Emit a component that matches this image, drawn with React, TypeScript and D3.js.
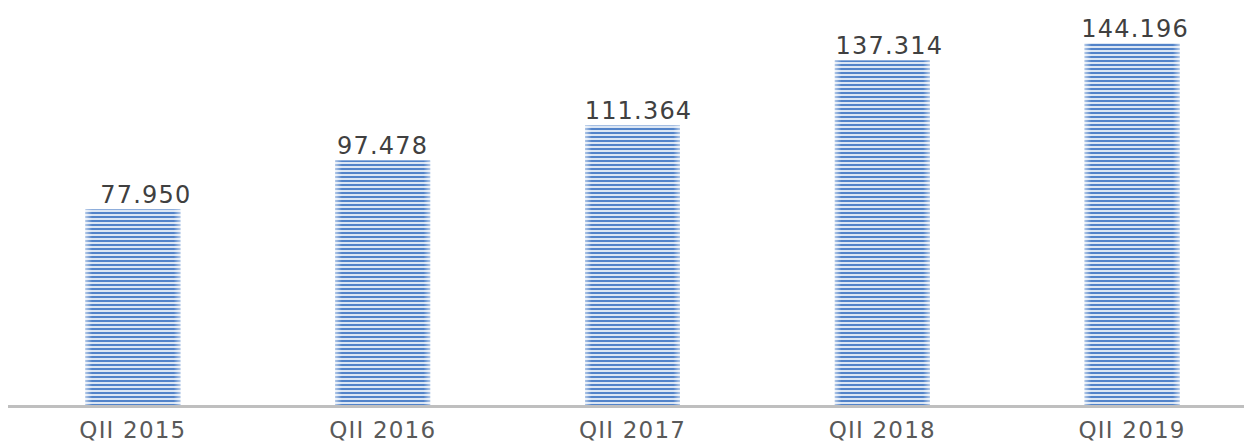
import React from "react";
import * as d3 from "d3";

const categories = ["QII 2015", "QII 2016", "QII 2017", "QII 2018", "QII 2019"];
const values = [77.95, 97.478, 111.364, 137.314, 144.196];
const valueLabels = ["77.950", "97.478", "111.364", "137.314", "144.196"];

// layout only: manual label nudges as in the original
const labelNudge = [13, 0, 6, 7, 3];

const W = 1244;
const H = 443;
const baseline = 405;

export default function App() {
  const x = d3
    .scaleBand<string>()
    .domain(categories)
    .range([8, 1257])
    .paddingInner(0.62)
    .paddingOuter(0.31);
  const y = d3.scaleLinear().domain([0, 160]).range([baseline, baseline - 160 * 2.51]);

  return (
    <svg
      width={W}
      height={H}
      style={{ position: "absolute", left: 0, top: 0, background: "#fff" }}
      fontFamily="'DejaVu Sans', Verdana, sans-serif"
    >
      <defs>
        <pattern id="stripes" patternUnits="userSpaceOnUse" width="8" height="4">
          <rect x="0" y="0" width="8" height="4" fill="#dbe6f4" />
          <rect x="0" y="0" width="8" height="2" fill="#5283c9" />
        </pattern>
        <linearGradient id="edge" x1="0" x2="1" y1="0" y2="0">
          <stop offset="0" stopColor="#ffffff" stopOpacity="0.55" />
          <stop offset="0.07" stopColor="#ffffff" stopOpacity="0" />
          <stop offset="0.93" stopColor="#ffffff" stopOpacity="0" />
          <stop offset="1" stopColor="#ffffff" stopOpacity="0.55" />
        </linearGradient>
      </defs>
      {categories.map((c, i) => {
        const bx = x(c)!;
        const by = y(values[i]);
        const bw = x.bandwidth();
        const bh = baseline - by;
        return (
          <g key={c}>
            <rect x={bx} y={by} width={bw} height={bh} fill="url(#stripes)" />
            <rect x={bx} y={by} width={bw} height={bh} fill="url(#edge)" />
            <text
              x={bx + bw / 2 + labelNudge[i]}
              y={by - 6}
              textAnchor="middle"
              fontSize={24}
              letterSpacing={1.2}
              fill="#404040"
            >
              {valueLabels[i]}
            </text>
            <text
              x={bx + bw / 2}
              y={438}
              textAnchor="middle"
              fontSize={23}
              letterSpacing={1.2}
              fill="#595959"
            >
              {c}
            </text>
          </g>
        );
      })}
      <rect x={8} y={baseline} width={W - 8} height={3} fill="#bfbfbf" />
    </svg>
  );
}
